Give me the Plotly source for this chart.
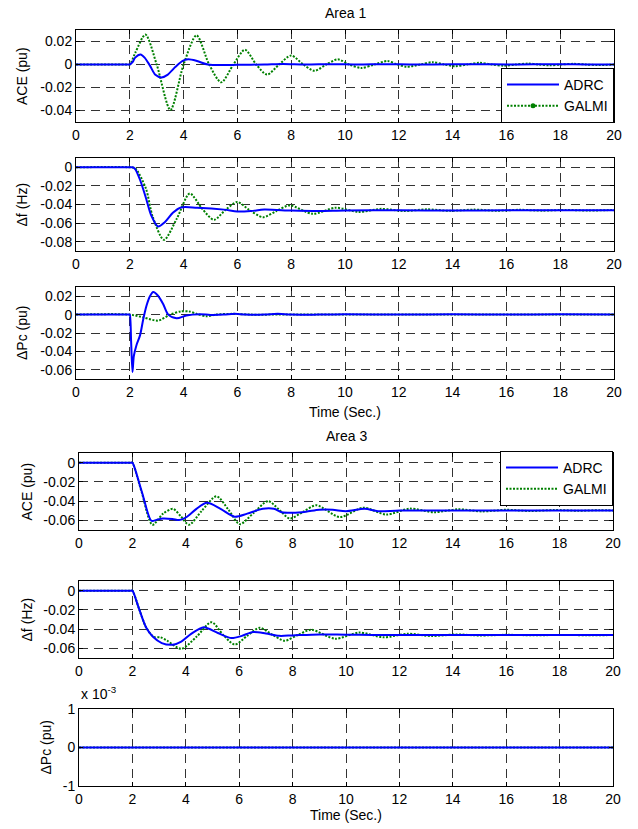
import plotly.graph_objects as go

# ---------------- data ----------------
# Area 1 - ACE
t_a1_ace_adrc = [0, 1.9, 2.0, 2.1, 2.2, 2.4, 2.55, 2.75, 2.95, 3.18, 3.4, 3.7, 3.95, 4.17, 4.5, 4.9, 5.5, 6.0, 7.0, 7.7, 8.5, 9.5, 10.5, 11.5, 12.5, 14, 15, 16, 17, 18, 19, 20]
a1_ace_adrc = [0, 0, 0, 0.002, 0.006, 0.0087, 0.006, -0.001, -0.009, -0.0113, -0.009, -0.002, 0.003, 0.0045, 0.003, 0.0, -0.0005, -0.0003, 0.0, 0.0005, 0.0, 0.0003, 0.0, 0.0003, 0.0, 0.0002, 0.0003, 0.0, 0.0002, 0.0003, 0.0, 0.0]

t_a1_ace_galmi = [0, 1.9, 2.0, 2.2, 2.58, 3.0, 3.51, 4.0, 4.48, 4.95, 5.4, 5.85, 6.28, 6.7, 7.1, 7.55, 8.0, 8.45, 8.87, 9.3, 9.73, 10.15, 10.6, 11.1, 11.58, 11.95, 12.3, 12.8, 13.26, 13.7, 14.1, 14.55, 15.0, 15.45, 15.9, 16.35, 16.8, 17.2, 17.6, 18.05, 18.5, 18.95, 19.4, 20]
a1_ace_galmi = [0, 0, 0, 0.01, 0.026, 0.0, -0.0395, 0.0, 0.0254, 0.0, -0.0155, 0.0, 0.0128, 0.0, -0.0088, 0.0, 0.0078, 0.0, -0.0055, 0.0, 0.0045, 0.0, -0.003, 0.0, 0.003, 0.0, -0.002, 0.0, 0.002, 0.0, -0.0015, 0.0, 0.0015, 0.0, -0.001, 0.0, 0.0008, 0.0, -0.0007, 0.0, 0.0006, 0.0, -0.0005, 0.0]

# Area 1 - delta f
t_a1_df_adrc = [0, 2.0, 2.1, 2.2, 2.4, 2.6, 2.8, 3.05, 3.3, 3.6, 3.9, 4.5, 5.5, 6.0, 6.5, 7.0, 8.0, 9.0, 10, 12, 14, 16, 18, 20]
a1_df_adrc = [0, 0, 0, -0.002, -0.015, -0.033, -0.052, -0.0637, -0.059, -0.049, -0.0432, -0.0435, -0.0455, -0.0475, -0.047, -0.0455, -0.0465, -0.047, -0.0465, -0.0462, -0.0465, -0.0463, -0.0463, -0.0463]

t_a1_df_galmi = [0, 2.0, 2.2, 2.6, 2.85, 3.27, 3.75, 4.23, 4.7, 5.13, 5.55, 5.99, 6.45, 6.95, 7.45, 7.94, 8.8, 9.65, 10.5, 11.35, 12.2, 13.05, 13.9, 14.8, 15.65, 16.5, 17.35, 18.2, 19.05, 19.9, 20]
a1_df_galmi = [0, 0, -0.001, -0.023, -0.053, -0.078, -0.055, -0.0282, -0.045, -0.0565, -0.046, -0.0373, -0.046, -0.0536, -0.047, -0.041, -0.050, -0.0435, -0.048, -0.0447, -0.047, -0.0452, -0.0468, -0.0455, -0.0467, -0.0457, -0.0466, -0.0458, -0.0465, -0.046, -0.0461]

# Area 1 - delta Pc
t_a1_dpc_adrc = [0, 1.98, 2.0, 2.05, 2.1, 2.15, 2.25, 2.38, 2.5, 2.62, 2.75, 2.87, 3.05, 3.24, 3.43, 3.74, 4.1, 4.6, 5.0, 5.5, 5.9, 6.3, 7.0, 7.5, 8.0, 9, 10, 12, 14, 16, 18, 20]
a1_dpc_adrc = [0, 0, 0, -0.03, -0.0625, -0.045, -0.033, -0.0226, -0.005, 0.0097, 0.02, 0.0245, 0.0205, 0.0115, 0.0, -0.004, -0.001, 0.0003, -0.0003, 0, 0.001, 0, 0, 0.001, 0, 0, 0.0003, 0, 0.0003, 0, 0.0003, 0]

t_a1_dpc_galmi = [0, 2.0, 2.5, 3.05, 3.5, 3.9, 4.2, 4.5, 4.85, 5.2, 5.8, 6.5, 7.5, 20]
a1_dpc_galmi = [0, 0, -0.003, -0.0065, 0.0, 0.0035, 0.0035, 0.0007, -0.0018, 0.0, 0.0008, 0.0, 0.0, 0.0]

# Area 3 - ACE
t_a3_ace_adrc = [0, 1.95, 2.0, 2.35, 2.71, 2.9, 3.13, 3.5, 3.75, 4.0, 4.4, 4.79, 5.3, 5.83, 6.3, 6.89, 7.3, 7.6, 8.0, 8.5, 9.0, 9.5, 10.0, 10.7, 11.2, 12, 14, 16, 18, 20]
a3_ace_adrc = [0, 0, 0, -0.030, -0.0604, -0.0595, -0.058, -0.0585, -0.0597, -0.057, -0.048, -0.0418, -0.048, -0.0562, -0.053, -0.048, -0.048, -0.0515, -0.052, -0.051, -0.049, -0.049, -0.0505, -0.048, -0.0505, -0.0497, -0.0497, -0.0497, -0.0497, -0.0497]

t_a3_ace_galmi = [0, 1.95, 2.0, 2.35, 2.75, 3.15, 3.52, 3.82, 4.12, 4.6, 5.15, 5.6, 6.02, 6.55, 7.08, 7.5, 7.89, 8.4, 8.89, 9.77, 10.64, 11.51, 12.39, 13.3, 14.2, 15.1, 16.0, 16.9, 17.8, 18.7, 19.5, 20]
a3_ace_galmi = [0, 0, 0, -0.031, -0.0646, -0.053, -0.048, -0.056, -0.0646, -0.05, -0.035, -0.049, -0.0639, -0.052, -0.040, -0.049, -0.058, -0.051, -0.0443, -0.0565, -0.0468, -0.054, -0.0478, -0.0515, -0.0485, -0.0507, -0.049, -0.0503, -0.0492, -0.05, -0.0494, -0.0497]

# Area 3 - delta f
t_a3_df_adrc = [0, 1.95, 2.0, 2.25, 2.52, 2.77, 3.1, 3.52, 3.83, 4.2, 4.67, 5.2, 5.71, 6.1, 6.52, 7.0, 7.5, 8.0, 9.0, 10, 11, 12, 14, 16, 18, 20]
a3_df_adrc = [0, 0, 0, -0.019, -0.0386, -0.048, -0.0545, -0.0562, -0.053, -0.045, -0.038, -0.044, -0.0493, -0.047, -0.043, -0.0445, -0.047, -0.0465, -0.0455, -0.0458, -0.046, -0.0462, -0.0462, -0.0462, -0.0462, -0.0462]

t_a3_df_galmi = [0, 1.95, 2.0, 2.25, 2.52, 2.8, 3.05, 3.3, 3.83, 4.4, 4.96, 5.4, 5.83, 6.3, 6.77, 7.25, 7.7, 8.2, 8.7, 9.6, 10.5, 11.4, 12.3, 13.2, 14.1, 15, 16, 17, 18, 19, 20]
a3_df_galmi = [0, 0, 0, -0.019, -0.0386, -0.048, -0.0485, -0.052, -0.0604, -0.048, -0.0328, -0.046, -0.056, -0.047, -0.0386, -0.046, -0.052, -0.046, -0.0407, -0.050, -0.0435, -0.0485, -0.0448, -0.0472, -0.0455, -0.0466, -0.0459, -0.0464, -0.0461, -0.0463, -0.0462]

# Area 3 - delta Pc (identically zero)
t_a3_dpc = [0, 20]
a3_dpc_adrc = [0, 0]
a3_dpc_galmi = [0, 0]

series_names = ["ADRC", "GALMI"]
x_ticks = [0, 2, 4, 6, 8, 10, 12, 14, 16, 18, 20]
y_titles = ["ACE (pu)", "\u0394f (Hz)", "\u0394Pc (pu)", "ACE (pu)", "\u0394f (Hz)", "\u0394Pc (pu)"]
y_ranges = [(-0.05, 0.03), (-0.09, 0.01), (-0.07, 0.03), (-0.07, 0.01), (-0.07, 0.01), (-0.001, 0.001)]
y_tickvals = [[-0.04, -0.02, 0, 0.02], [-0.08, -0.06, -0.04, -0.02, 0], [-0.06, -0.04, -0.02, 0, 0.02],
              [-0.06, -0.04, -0.02, 0], [-0.06, -0.04, -0.02, 0], [-0.001, 0, 0.001]]
y_ticktext = [["-0.04", "-0.02", "0", "0.02"], ["-0.08", "-0.06", "-0.04", "-0.02", "0"],
              ["-0.06", "-0.04", "-0.02", "0", "0.02"], ["-0.06", "-0.04", "-0.02", "0"],
              ["-0.06", "-0.04", "-0.02", "0"], ["-1", "0", "1"]]

# ---------------- layout geometry ----------------
# The page body has an 8 px margin, so the figure is drawn 8 px smaller and all
# pixel positions (taken in window coordinates) are shifted by OFF.
WIN_W, WIN_H = 638, 829
OFF = 8
W, H = WIN_W - OFF, WIN_H - OFF


def px(xw):
    return (xw - OFF) / W


def py(yw):
    return 1 - (yw - OFF) / H


boxes = [(76, 614, 30, 122), (76, 614, 158, 251), (76, 614, 287, 379),
         (79, 613, 453, 530), (79, 613, 581, 658), (79, 613, 709, 786)]
ytitle_x = [22, 22, 22, 26, 26, 45]

BLUE = "#0000FF"
GREEN = "#008000"
FONT = "Liberation Sans, Arial, sans-serif"

fig = go.Figure()

panels = [
    (t_a1_ace_adrc, a1_ace_adrc, t_a1_ace_galmi, a1_ace_galmi),
    (t_a1_df_adrc, a1_df_adrc, t_a1_df_galmi, a1_df_galmi),
    (t_a1_dpc_adrc, a1_dpc_adrc, t_a1_dpc_galmi, a1_dpc_galmi),
    (t_a3_ace_adrc, a3_ace_adrc, t_a3_ace_galmi, a3_ace_galmi),
    (t_a3_df_adrc, a3_df_adrc, t_a3_df_galmi, a3_df_galmi),
    (t_a3_dpc, a3_dpc_adrc, t_a3_dpc, a3_dpc_galmi),
]

for i, (tb, yb, tg, yg) in enumerate(panels):
    n = "" if i == 0 else str(i + 1)
    xa, ya = "x" + n, "y" + n
    fig.add_trace(go.Scatter(x=tg, y=yg, mode="lines", xaxis=xa, yaxis=ya,
                             line=dict(color=GREEN, width=2, dash="2px,1.5px", shape="spline", smoothing=0.8),
                             name=series_names[1], showlegend=(i == 3), legend="legend2",
                             legendrank=2))
    fig.add_trace(go.Scatter(x=tb, y=yb, mode="lines", xaxis=xa, yaxis=ya,
                             line=dict(color=BLUE, width=2, shape="spline", smoothing=0.8),
                             name=series_names[0], showlegend=(i in (0, 3)),
                             legend="legend" if i == 0 else "legend2",
                             legendrank=1))

# legend-only entry for GALMI (with marker) in the Area 1 legend
fig.add_trace(go.Scatter(x=[None], y=[None], mode="lines+markers", xaxis="x", yaxis="y",
                         line=dict(color=GREEN, width=2, dash="2px,1.5px"),
                         marker=dict(color=GREEN, size=5), name=series_names[1],
                         legend="legend", legendrank=2))

layout = dict(width=W, height=H, autosize=False,
              margin=dict(l=0, r=0, t=0, b=0, pad=0, autoexpand=False),
              paper_bgcolor="white", plot_bgcolor="white",
              font=dict(family=FONT, size=14, color="black"))

grid_kw = dict(showgrid=True, gridcolor="#333333", gridwidth=1, griddash="9px,6px",
               zeroline=False, showline=True, linecolor="black", linewidth=1, mirror="ticks",
               ticks="inside", ticklen=4, tickcolor="black", automargin=False,
               tickfont=dict(family=FONT, size=14))

annotations = []
for i, (l, r, tp, bt) in enumerate(boxes):
    n = "" if i == 0 else str(i + 1)
    layout["xaxis" + n] = dict(domain=[px(l), px(r)], range=[0, 20], tickvals=x_ticks,
                               anchor="y" + n, **grid_kw)
    layout["yaxis" + n] = dict(domain=[py(bt), py(tp)], range=list(y_ranges[i]),
                               tickvals=y_tickvals[i], ticktext=y_ticktext[i],
                               anchor="x" + n, **grid_kw)
    annotations.append(dict(text=y_titles[i], x=px(ytitle_x[i]), y=py((tp + bt) / 2),
                            xref="paper", yref="paper", showarrow=False, textangle=-90,
                            xanchor="center", yanchor="middle", font=dict(size=14)))

annotations += [
    dict(text="Area 1", x=px(345), y=py(13.5), xref="paper", yref="paper", showarrow=False,
         xanchor="center", yanchor="middle"),
    dict(text="Area 3", x=px(346), y=py(436), xref="paper", yref="paper", showarrow=False,
         xanchor="center", yanchor="middle"),
    dict(text="Time (Sec.)", x=px(345), y=py(412), xref="paper", yref="paper", showarrow=False,
         xanchor="center", yanchor="middle"),
    dict(text="Time (Sec.)", x=px(346), y=py(815), xref="paper", yref="paper", showarrow=False,
         xanchor="center", yanchor="middle"),
    dict(text="x 10<sup>-3</sup>", x=px(79), y=py(693), xref="paper", yref="paper", showarrow=False,
         xanchor="left", yanchor="middle"),
]
layout["annotations"] = annotations

leg_kw = dict(bgcolor="white", bordercolor="black", borderwidth=1, font=dict(size=14),
              itemwidth=52, tracegroupgap=0, traceorder="normal")
layout["legend"] = dict(x=px(614), y=py(68), xanchor="right", yanchor="top", **leg_kw)
layout["legend2"] = dict(x=px(613), y=py(451), xanchor="right", yanchor="top", **leg_kw)

fig.update_layout(**layout)
fig.write_html("out.html")
